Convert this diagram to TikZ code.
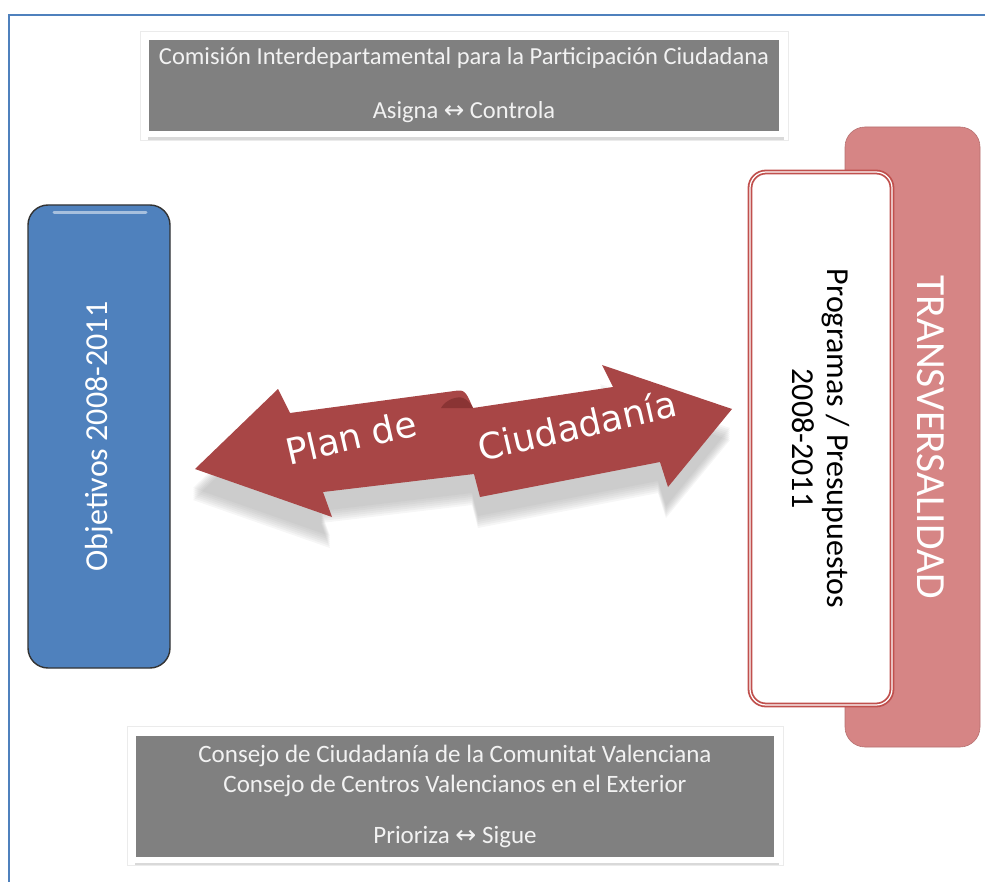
\documentclass[tikz,border=0pt]{standalone}
\usepackage{fontspec}
\setmainfont{Carlito}
\newfontfamily\wordart{DejaVu Sans}
\usetikzlibrary{shadows}

\definecolor{frameblue}{RGB}{79,129,189}
\definecolor{boxgray}{RGB}{128,128,128}
\definecolor{textgray}{RGB}{242,242,242}
\definecolor{objblue}{RGB}{79,129,189}
\definecolor{transpink}{RGB}{214,133,133}
\definecolor{progred}{RGB}{192,80,77}
\definecolor{arrowred}{RGB}{168,70,70}
\definecolor{folddark}{RGB}{138,52,52}
\definecolor{shadowgray}{RGB}{150,150,150}

\newcommand\dblarrow{{\wordart ↔}}

\tikzset{
  graybox/.style={fill=boxgray, draw=white, line width=6pt, text=textgray,
    align=center,
    drop shadow={shadow xshift=1.5pt, shadow yshift=-6pt, opacity=.3}},
  objbox/.style={fill=objblue, draw=black!80, line width=1.4pt,
    rounded corners=20pt, text=white, font=\fontsize{32}{38}\selectfont},
  transbox/.style={fill=transpink, draw=transpink!85!black, line width=.6pt,
    rounded corners=20pt},
  progbox/.style={fill=white, draw=progred, double=white, line width=1.8pt,
    double distance=1.2pt, rounded corners=16pt, align=center,
    font=\fontsize{32}{35}\selectfont},
  wordtext/.style={text=white, font=\wordart\fontsize{36}{40}\selectfont}
}

\begin{document}
\begin{tikzpicture}[x=1pt,y=-1pt]
  \useasboundingbox (0,0) rectangle (985,882);

  % Page frame
  \draw[frameblue, line width=2pt] (8.5,882) -- (8.5,15) -- (985,15);

  % Top and bottom boxes
  \node[graybox, minimum width=636, minimum height=97,
        font=\fontsize{24.5}{30}\selectfont] (comision) at (464,85.5)
    {Comisión Interdepartamental para la Participación Ciudadana\\[24pt]
     Asigna \dblarrow{} Controla};
  \node[graybox, minimum width=644, minimum height=127,
        font=\fontsize{25}{30}\selectfont] (consejo) at (455,796)
    {Consejo de Ciudadanía de la Comunitat Valenciana\\
     Consejo de Centros Valencianos en el Exterior\\[21pt]
     Prioriza \dblarrow{} Sigue};
  \draw[black!8, line width=.5pt]
    ([shift={(-3,-3)}]comision.north west) rectangle ([shift={(3,3)}]comision.south east);
  \draw[black!8, line width=.5pt]
    ([shift={(-3,-3)}]consejo.north west) rectangle ([shift={(3,3)}]consejo.south east);

  % Left box
  \node[objbox, rotate=90, minimum width=463, minimum height=142] (objetivos)
    at (99,436.5) {Objetivos 2008-2011};
  \draw[white, opacity=.5, line width=3pt, line cap=round] (54,213) -- (146,213);

  % Right boxes
  \node[transbox, rotate=-90, minimum width=620, minimum height=135] (transv)
    at (912.5,437) {};
  \node[rotate=-90, text=white, font=\fontsize{41.5}{48}\selectfont] (transvtext)
    at (931,437) {TRANSVERSALIDAD};
  \node[progbox, rotate=-90, minimum width=533, minimum height=142] (programas)
    at (821,438.5) {Programas / Presupuestos\\2008-2011};

  % Twisted double arrow, shadow first
  \foreach \dy in {19,21,...,31}
    \fill[shadowgray, opacity=.09, xshift=-2pt, yshift=-\dy pt]
      (195,469) -- (278,389) -- (290,413) -- (458,390.5)
      .. controls (466,389.5) and (468,397) .. (473,408)
      -- (613,387) -- (602,365) -- (732,409) -- (668,487) -- (660,462)
      -- (480,497) -- (474,474) -- (323,492) -- (332,517) -- cycle;
  \fill[arrowred]
    (195,469) -- (278,389) -- (290,413) -- (458,390.5)
    .. controls (466,389.5) and (468,397) .. (473,408)
    -- (613,387) -- (602,365) -- (732,409) -- (668,487) -- (660,462)
    -- (480,497) -- (474,474) -- (323,492) -- (332,517) -- cycle;
  \fill[folddark] (441,408) .. controls (446,399) and (458,396) .. (463,398)
    .. controls (468,400) and (471,404) .. (473,408) -- cycle;

  % Arrow text
  \node[wordtext, rotate=13] (plan) at (351,437) {Plan de};
  \node[wordtext, rotate=13] (ciudad) at (577,425) {Ciudadanía};

\end{tikzpicture}
\end{document}
